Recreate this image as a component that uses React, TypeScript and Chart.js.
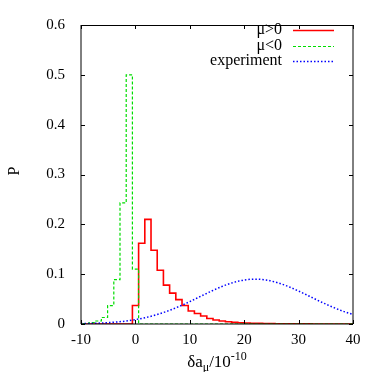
import React, { useEffect, useRef } from 'react';
import { Chart, registerables } from 'chart.js';

Chart.register(...registerables);

// Histogram bin edges (δa_μ in units of 1e-10)
const binEdges = [
  -9.67, -8.53, -7.39, -6.25, -5.11, -3.97, -2.83, -1.69, -0.55, 0.59,
  1.73, 2.87, 4.01, 5.15, 6.29, 7.43, 8.57, 9.71, 10.85, 11.99,
  13.13, 14.27, 15.41, 16.55, 17.69, 18.83, 19.97, 21.11, 22.25, 23.39,
  24.53, 25.67, 26.81, 27.95, 29.09, 30.23, 31.37, 32.51, 33.65, 34.79,
  35.93, 37.07, 38.21, 39.35, 40.49,
];

// μ>0 histogram (one value per bin)
const muPos = [
  0, 0, 0, 0, 0, 0, 0, 0, 0.037, 0.162,
  0.21, 0.148, 0.108, 0.078, 0.062, 0.049, 0.037, 0.026, 0.021, 0.016,
  0.011, 0.008, 0.006, 0.0045, 0.0033, 0.0026, 0.002, 0.0015, 0.0012, 0.001,
  0.0008, 0.0006, 0.0005, 0.0004, 0.0003, 0.0002, 0.0002, 0.0001, 0.0001, 0.0001,
  0.0001, 0, 0, 0,
];

// μ<0 histogram
const muNeg = [
  0.001, 0.003, 0.006, 0.013, 0.037, 0.089, 0.243, 0.5, 0.11, 0,
  0, 0, 0, 0, 0, 0, 0, 0, 0, 0,
  0, 0, 0, 0, 0, 0, 0, 0, 0, 0,
  0, 0, 0, 0, 0, 0, 0, 0, 0, 0,
  0, 0, 0, 0,
];

// experiment curve
const expX = [-10, -8, -6, -4, -2, 0, 2, 4, 6, 8, 10, 12, 14, 16, 18, 20, 22, 24, 26, 28, 30, 32, 34, 36, 38, 40];
const expP = [
  0.0007, 0.0012, 0.0021, 0.0035, 0.0056, 0.0088, 0.0132, 0.019, 0.0263, 0.0351,
  0.045, 0.0556, 0.0661, 0.0757, 0.0833, 0.0883, 0.09, 0.0883, 0.0833, 0.0757,
  0.0661, 0.0556, 0.045, 0.0351, 0.0263, 0.019,
];

const xTicks = [-10, 0, 10, 20, 30, 40];
const yTicks = [0, 0.1, 0.2, 0.3, 0.4, 0.5, 0.6];

const seriesLabels = ['μ>0', 'μ<0', 'experiment'];
const seriesColors = ['#ff0000', '#00dd00', '#0000ff'];
const seriesDash = [[], [3, 2], [1.5, 2]];
const seriesWidth = [1.6, 1.2, 1.5];

const FONT = '"Liberation Serif", "DejaVu Serif", serif';

function histPoints(edges: number[], vals: number[]) {
  const pts = vals.map((v, i) => ({ x: edges[i], y: v }));
  pts.push({ x: edges[vals.length], y: vals[vals.length - 1] });
  return pts;
}

const gnuFrame = {
  id: 'gnuFrame',
  afterDatasetsDraw(chart: any) {
    const { ctx, chartArea: a, scales } = chart;
    const xs = scales.x;
    const ys = scales.y;
    ctx.save();
    // frame
    ctx.strokeStyle = '#000';
    ctx.lineWidth = 1;
    ctx.setLineDash([]);
    ctx.beginPath();
    ctx.moveTo(a.left, a.top + 0.5);
    ctx.lineTo(a.right, a.top + 0.5);
    ctx.moveTo(a.right, a.top);
    ctx.lineTo(a.right, a.bottom);
    ctx.moveTo(a.left, a.top);
    ctx.lineTo(a.left, a.bottom);
    ctx.moveTo(a.left, a.bottom);
    ctx.lineTo(a.right, a.bottom);
    ctx.stroke();
    // inward ticks, mirrored
    const tl = 4;
    ctx.beginPath();
    for (const v of xTicks) {
      const px = Math.round(xs.getPixelForValue(v)) + 0.5;
      ctx.moveTo(px, a.bottom);
      ctx.lineTo(px, a.bottom - tl);
      ctx.moveTo(px, a.top);
      ctx.lineTo(px, a.top + tl);
    }
    for (const v of yTicks) {
      const py = Math.round(ys.getPixelForValue(v)) + 0.5;
      ctx.moveTo(a.left, py);
      ctx.lineTo(a.left + tl, py);
      ctx.moveTo(a.right, py);
      ctx.lineTo(a.right - tl, py);
    }
    ctx.stroke();

    // legend
    ctx.font = `16px ${FONT}`;
    ctx.fillStyle = '#000';
    ctx.textAlign = 'right';
    ctx.textBaseline = 'middle';
    seriesLabels.forEach((lab, i) => {
      const y = 30 + i * 15.5;
      ctx.fillText(lab, 282, y);
      ctx.save();
      ctx.strokeStyle = seriesColors[i];
      ctx.lineWidth = seriesWidth[i];
      ctx.setLineDash(seriesDash[i]);
      ctx.beginPath();
      ctx.moveTo(293, Math.round(y) + 0.5);
      ctx.lineTo(334, Math.round(y) + 0.5);
      ctx.stroke();
      ctx.restore();
    });

    // x axis title: δa_μ / 10^-10
    const main = `17px ${FONT}`;
    const small = `12px ${FONT}`;
    ctx.textAlign = 'left';
    ctx.textBaseline = 'alphabetic';
    const parts = [
      { t: 'δa', f: main, dy: 0 },
      { t: 'μ', f: small, dy: 4 },
      { t: '/10', f: main, dy: 0 },
      { t: '-10', f: small, dy: -7 },
    ];
    let total = 0;
    const widths = parts.map((p) => {
      ctx.font = p.f;
      const w = ctx.measureText(p.t).width;
      total += w;
      return w;
    });
    let cx = (a.left + a.right) / 2 - total / 2;
    const base = 367;
    parts.forEach((p, i) => {
      ctx.font = p.f;
      ctx.fillText(p.t, cx, base + p.dy);
      cx += widths[i];
    });

    // y axis title
    ctx.save();
    ctx.translate(15, 171);
    ctx.rotate(-Math.PI / 2);
    ctx.font = `16px ${FONT}`;
    ctx.textAlign = 'center';
    ctx.textBaseline = 'middle';
    ctx.fillText('P', 0, 0);
    ctx.restore();

    ctx.restore();
  },
};

export default function App() {
  const ref = useRef<HTMLCanvasElement>(null);
  useEffect(() => {
    if (!ref.current) return;
    const chart = new Chart(ref.current, {
      type: 'line',
      data: {
        datasets: [
          {
            label: seriesLabels[0],
            data: histPoints(binEdges, muPos),
            borderColor: seriesColors[0],
            borderWidth: seriesWidth[0],
            borderDash: seriesDash[0],
            stepped: 'before',
            pointRadius: 0,
            fill: false,
            order: 3,
          },
          {
            label: seriesLabels[1],
            data: histPoints(binEdges, muNeg),
            borderColor: seriesColors[1],
            borderWidth: seriesWidth[1],
            borderDash: seriesDash[1],
            stepped: 'before',
            pointRadius: 0,
            fill: false,
            order: 2,
          },
          {
            label: seriesLabels[2],
            data: expX.map((x, i) => ({ x, y: expP[i] })),
            borderColor: seriesColors[2],
            borderWidth: seriesWidth[2],
            borderDash: seriesDash[2],
            cubicInterpolationMode: 'monotone',
            pointRadius: 0,
            fill: false,
            order: 1,
          },
        ],
      },
      options: {
        responsive: false,
        animation: false,
        devicePixelRatio: 1,
        layout: { padding: { left: 0, top: 19, right: 27, bottom: 0 } },
        plugins: { legend: { display: false }, tooltip: { enabled: false } },
        scales: {
          x: {
            type: 'linear',
            min: -10,
            max: 40,
            afterBuildTicks: (s: any) => {
              s.ticks = xTicks.map((v) => ({ value: v }));
            },
            ticks: {
              padding: 7,
              color: '#000',
              maxRotation: 0,
              autoSkip: false,
              font: { family: FONT, size: 15 },
              callback: (v: any) => String(v),
            },
            grid: { display: false, drawTicks: false },
            border: { display: false },
            afterFit: (s: any) => {
              s.height = 48;
            },
          },
          y: {
            type: 'linear',
            min: 0,
            max: 0.6,
            afterBuildTicks: (s: any) => {
              s.ticks = yTicks.map((v) => ({ value: v }));
            },
            ticks: {
              padding: 16,
              color: '#000',
              autoSkip: false,
              font: { family: FONT, size: 15 },
              callback: (v: any) => String(Math.round(Number(v) * 10) / 10),
            },
            grid: { display: false, drawTicks: false },
            border: { display: false },
            afterFit: (s: any) => {
              s.width = 81;
            },
          },
        },
      },
      plugins: [gnuFrame],
    });
    return () => chart.destroy();
  }, []);
  return (
    <div style={{ position: 'absolute', left: 0, top: 0, width: 380, height: 372, background: '#fff' }}>
      <canvas ref={ref} width={380} height={372} style={{ display: 'block' }} />
    </div>
  );
}
